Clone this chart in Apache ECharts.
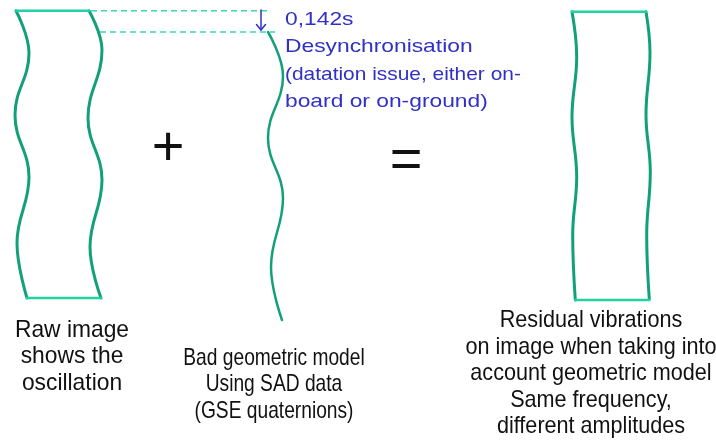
<!DOCTYPE html>
<html>
<head>
<meta charset="utf-8">
<script src="https://cdn.jsdelivr.net/npm/echarts@6/dist/echarts.min.js"></script>
<style>html,body{margin:0;padding:0;background:#fff}#c{width:716px;height:443px}</style>
</head>
<body>
<div id="c"></div>
<script>
// Diagram geometry (data space: x 0..716, y 0..443 downward)
const rawLeftEdge  = [[16,10.7],[29,53],[15,115],[29,177],[17,243],[27,298]];
const rawRightEdge = [[89,10.7],[102,50],[88,118],[102,180],[90,247],[101,298]];
const rawTop       = [[16,10.7],[89,10.7]];
const rawBottom    = [[27,298],[101,298]];
const modelLine    = [[268,32],[283,76],[268,138],[283,198],[271,267],[282,320]];
const resLeftEdge  = [[572,11.7],[576.7,57],[572,117],[576.7,177],[572.7,235],[575.3,300]];
const resRightEdge = [[646,11.7],[650,53],[646,115],[650.3,172],[646.7,235],[649.3,299]];
const resTop       = [[572,11.7],[646,11.7]];
const resBottom    = [[575.3,300],[649.3,300]];
const dashTop      = [[91,10.7],[270,10.7]];
const dashBottom   = [[100,32],[275,32]];
const arrowShaft   = [[261,10],[261,30]];
const arrowHead    = [[256.5,24.5],[261,30],[265.5,24.5]];

const blueLines   = ['0,142s','Desynchronisation','(datation issue, either on-','board or on-ground)'];
const rawCaption  = ['Raw image','shows the','oscillation'];
const modelCaption= ['Bad geometric model','Using SAD data','(GSE quaternions)'];
const resCaption  = ['Residual vibrations','on image when taking into','account geometric model','Same frequency,','different amplitudes'];

const GREEN = '#12a079', EDGE = '#22d2a2', DASH = '#3ad6b6', BLUE = '#3030c6';
const chart = echarts.init(document.getElementById('c'), null, {renderer:'canvas'});

function ln(data, color, width, extra) {
  return Object.assign({type:'line', data, symbol:'none', silent:true,
    lineStyle:{color, width, cap:'round', join:'round'}}, extra || {});
}
function wave(data, width) {
  return ln(data, GREEN, width, {smooth:0.42, smoothMonotone:'y'});
}
function caption(lines, cx, top, lh, sx) {
  return {type:'text', x:cx, y:top, scaleX:sx,
    style:{text:lines.join('\n'), font:'24px "Liberation Sans", Arial, sans-serif',
      fill:'#111', align:'center', verticalAlign:'top', lineHeight:lh}};
}
const blueScale = [1.2, 1.2, 1.1, 1.2];
const blueText = blueLines.map((t, i) => ({
  type:'text', x:285, y:6 + i * 27.5, scaleX:blueScale[i],
  style:{text:t, font:'19px "Liberation Sans", Arial, sans-serif',
    fill:BLUE, align:'left', verticalAlign:'top', lineHeight:27.5}
}));

chart.setOption({
  animation:false,
  backgroundColor:'#fff',
  grid:{left:0,right:0,top:0,bottom:0},
  xAxis:{type:'value',min:0,max:716,show:false},
  yAxis:{type:'value',min:0,max:443,inverse:true,show:false},
  series:[
    wave(rawLeftEdge, 3),
    wave(rawRightEdge, 3),
    ln(rawTop, EDGE, 2.5),
    ln(rawBottom, EDGE, 2.5),
    wave(modelLine, 2.5),
    wave(resLeftEdge, 3),
    wave(resRightEdge, 3),
    ln(resTop, EDGE, 2.5),
    ln(resBottom, EDGE, 2.5),
    ln(dashTop, DASH, 1.5, {lineStyle:{color:DASH,width:1.5,type:[6,4]}}),
    ln(dashBottom, DASH, 1.5, {lineStyle:{color:DASH,width:1.5,type:[6,4]}}),
    ln(arrowShaft, BLUE, 1.5),
    ln(arrowHead, BLUE, 1.5)
  ],
  graphic:blueText.concat([
    caption(rawCaption, 72, 317, 26.5, 0.95),
    caption(modelCaption, 274, 345, 26.5, 0.8),
    caption(resCaption, 591, 307.5, 26.5, 0.9),
    {type:'text', x:168, y:150, style:{text:'+', font:'56px "Liberation Sans", Arial, sans-serif',
      fill:'#111', align:'center', verticalAlign:'middle'}},
    {type:'text', x:406, y:162, style:{text:'=', font:'56px "Liberation Sans", Arial, sans-serif',
      fill:'#111', align:'center', verticalAlign:'middle'}}
  ])
});
</script>
</body>
</html>
